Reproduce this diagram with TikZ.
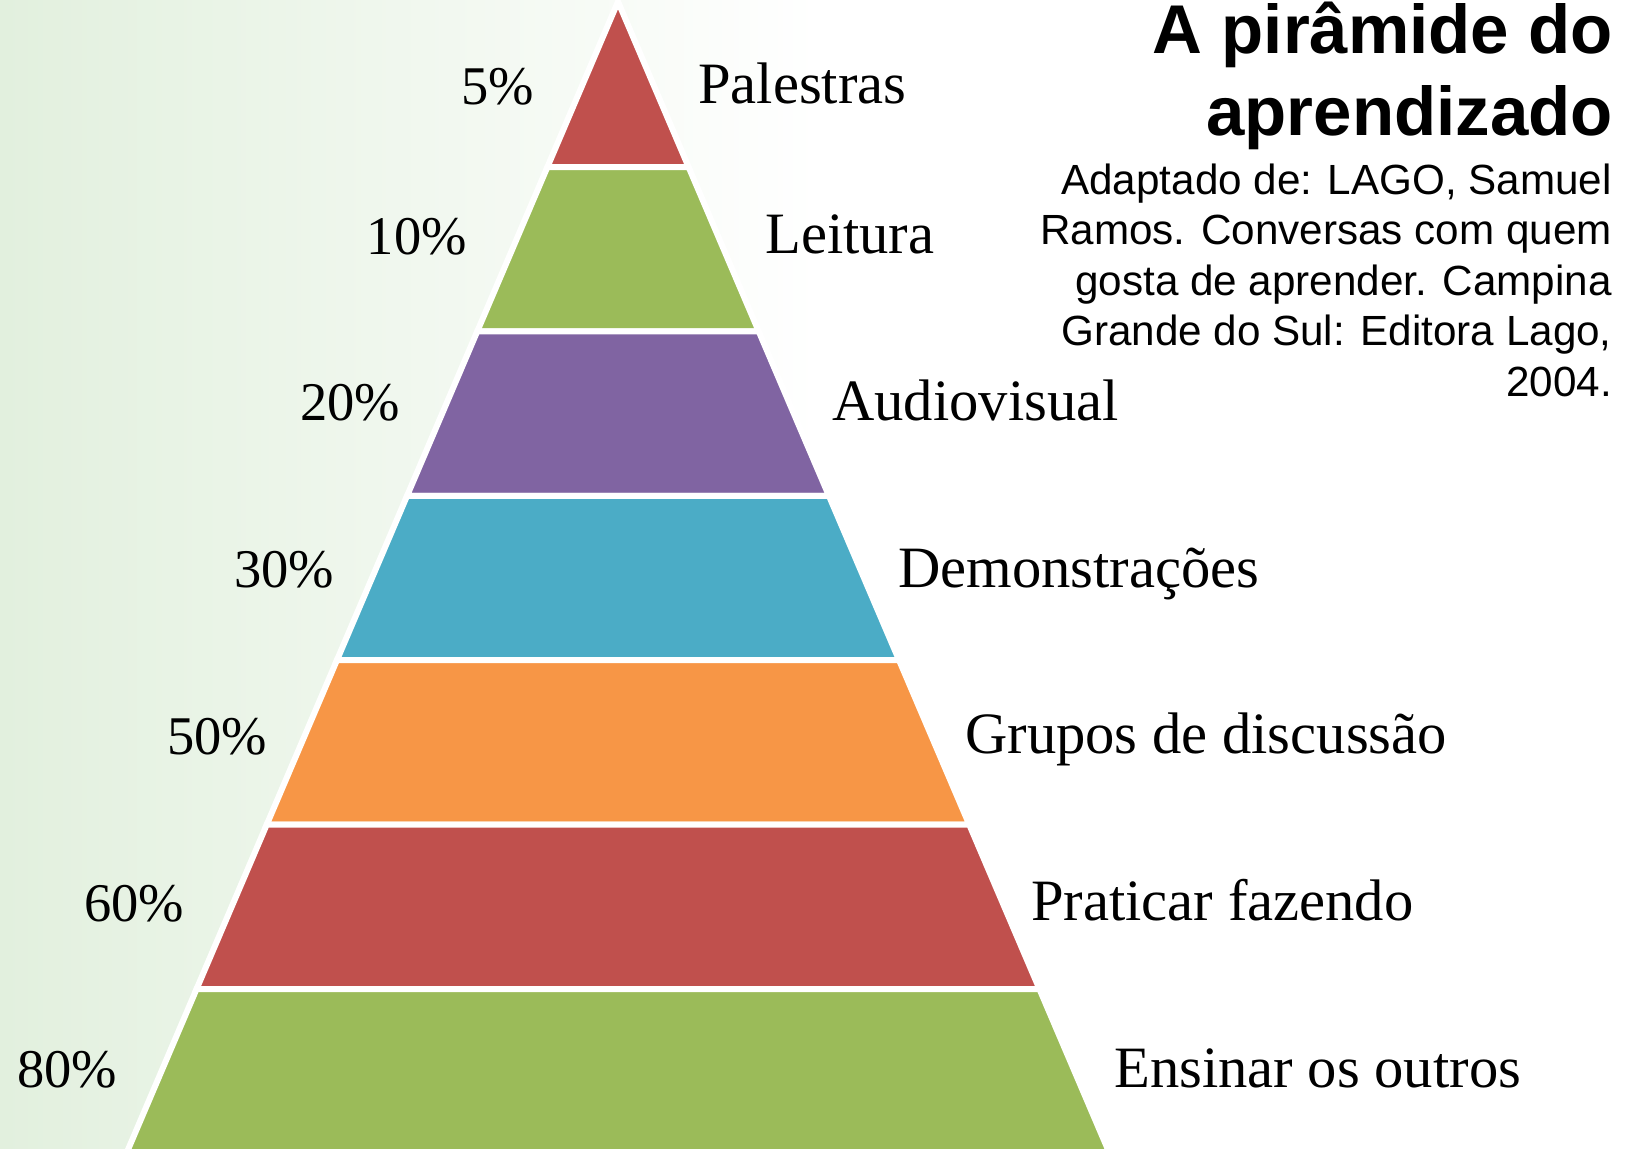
\documentclass[tikz,border=0pt]{standalone}
\usepackage{fontspec}
\setmainfont{Liberation Serif}
\newfontfamily\arialfont{Liberation Sans}
\definecolor{bggreen}{RGB}{226,240,222}
\definecolor{pred}{RGB}{192,80,77}
\definecolor{pgreen}{RGB}{155,187,89}
\definecolor{ppurple}{RGB}{128,100,162}
\definecolor{pcyan}{RGB}{75,172,198}
\definecolor{porange}{RGB}{247,150,70}
\newcommand\pyrband[3]{\path[band,fill=#3] ({618-hw(#1)},#1) -- ({618+hw(#1)},#1) -- ({618+hw(#2)},#2) -- ({618-hw(#2)},#2) -- cycle;}
\begin{document}
\begin{tikzpicture}[x=1pt,y=-1pt,
  declare function={hw(\t)=0.4268*(\t-1.6);},
  band/.style={draw=white,line width=6pt,line join=miter},
  pct/.style={anchor=base east,inner sep=0pt,font=\fontsize{54.5}{60}\selectfont},
  lbl/.style={anchor=base west,inner sep=0pt,font=\fontsize{58.6}{64}\selectfont},
  ttl/.style={anchor=base east,inner sep=0pt,font=\arialfont\bfseries\fontsize{69}{80}\selectfont},
  cit/.style={anchor=base east,inner sep=0pt,font=\arialfont\fontsize{42.2}{50}\selectfont}]
\useasboundingbox (0,0) rectangle (1632,1148);
\clip (0,0) rectangle (1632,1148);
\fill[white] (0,0) rectangle (1632,1148);
\shade[left color=bggreen,right color=white] (0,0) rectangle (820,1148);
% pyramid
\path[band,fill=pred] (618,1.6) -- ({618+hw(167)},167) -- ({618-hw(167)},167) -- cycle;
\pyrband{167}{331.4}{pgreen}
\pyrband{331.4}{495.8}{ppurple}
\pyrband{495.8}{660.2}{pcyan}
\pyrband{660.2}{824.6}{porange}
\pyrband{824.6}{989}{pred}
\pyrband{989}{1170}{pgreen}
% percentages
\node[pct] (p1) at (534.5,104) {5\%};
\node[pct] (p2) at (467,254) {10\%};
\node[pct] (p3) at (400.5,420.5) {20\%};
\node[pct] (p4) at (334.5,587.3) {30\%};
\node[pct] (p5) at (267.5,754.3) {50\%};
\node[pct] (p6) at (184.5,921) {60\%};
\node[pct] (p7) at (117.5,1087.3) {80\%};
% labels
\node[lbl] (l1) at (698,103.5) {Palestras};
\node[lbl] (l2) at (765,253.5) {Leitura};
\node[lbl] (l3) at (832,420) {Audiovisual};
\node[lbl] (l4) at (898,587) {Demonstrações};
\node[lbl] (l5) at (965,753.5) {Grupos de discussão};
\node[lbl] (l6) at (1031,920) {Praticar fazendo};
\node[lbl] (l7) at (1114,1087.3) {Ensinar os outros};
% title
\node[ttl] (t1) at (1613,54) {A pirâmide do};
\node[ttl] (t2) at (1613,135) {aprendizado};
% citation
\node[cit] (c1) at (1612,194) {Adaptado de: LAGO, Samuel};
\node[cit] (c2) at (1612,244.5) {Ramos. Conversas com quem};
\node[cit] (c3) at (1612,295) {gosta de aprender. Campina};
\node[cit] (c4) at (1612,345.5) {Grande do Sul: Editora Lago,};
\node[cit] (c5) at (1612,396) {2004.};
\end{tikzpicture}
\end{document}
